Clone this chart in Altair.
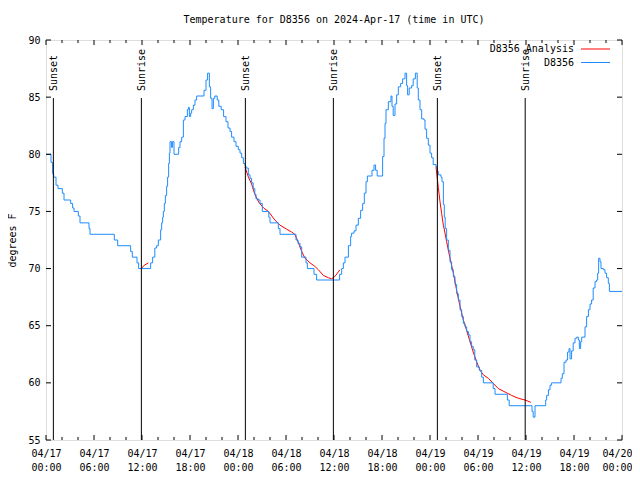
import altair as alt
import pandas as pd

# ---------------- data (hours since 2024-04-17 00:00 UTC) ----------------
blue_hours = [0.0, 0.625, 0.83, 0.96, 1.25, 1.5, 2.04, 2.25, 3.08, 3.33, 3.5, 4.04, 4.25, 5.375, 5.5,
              8.54, 8.96, 10.58, 10.79, 11.375, 11.58, 13.08, 13.33, 13.6, 13.83, 14.04, 14.33, 14.46,
              14.58, 14.67, 14.79, 14.92, 15.08, 15.2, 15.33, 15.42, 15.5, 15.7, 15.8, 16.0, 16.58,
              16.75, 16.96, 17.17, 17.375, 17.67, 17.8, 17.92, 18.08, 18.21, 18.42, 18.625, 18.83,
              19.75, 20.0, 20.2, 20.42, 20.58, 20.75, 20.92, 21.1, 21.4, 21.6, 21.9, 22.2, 22.5,
              22.75, 23.0, 23.2, 23.5, 23.75, 24.04, 24.25, 24.46, 24.67, 24.875, 25.0, 25.29, 25.5,
              25.7, 25.9, 26.1, 26.25, 26.54, 26.75, 27.04, 27.85, 28.0, 29.04, 29.25, 31.25, 31.5,
              31.75, 31.96, 32.5, 32.67, 33.5, 33.83, 36.7, 36.96, 37.17, 37.375, 37.8, 38.08, 38.2,
              38.5, 38.75, 39.04, 39.33, 39.58, 39.79, 40.0, 40.17, 40.75, 41.0, 41.2, 41.4, 42.08,
              42.25, 42.375, 42.5, 42.79, 43.125, 43.25, 43.4, 43.625, 43.83, 44.04, 44.33, 44.58,
              44.875, 45.08, 45.2, 45.4, 45.7, 45.9, 46.17, 46.4, 46.54, 46.75, 46.96, 47.25, 47.375,
              47.58, 47.79, 48.0, 48.2, 48.4, 48.75, 48.9, 49.04, 49.375, 49.5, 49.67, 49.79, 49.9,
              50.08, 50.29, 50.5, 50.7, 50.92, 51.125, 51.33, 51.54, 51.75, 51.96, 52.17, 52.375,
              52.58, 52.8, 53.0, 53.2, 53.4, 53.6, 53.83, 54.17, 54.46, 54.67, 55.9, 56.125, 57.67,
              57.9, 60.75, 60.9, 61.125, 62.46, 62.58, 62.8, 63.0, 63.2, 64.375, 64.54, 64.75, 65.0,
              65.2, 65.375, 65.5, 65.7, 65.9, 66.125, 66.33, 66.54, 66.67, 66.83, 66.96, 67.375,
              67.58, 67.8, 68.0, 68.2, 68.4, 68.625, 68.83, 68.96, 69.08, 69.25, 69.375, 69.67,
              69.875, 70.08, 70.29, 70.42, 72.0]
blue_temps = [80.0, 79.3, 78.3, 78.0, 77.3, 77.0, 76.6, 76.0, 75.7, 75.3, 75.0, 74.6, 74.0, 73.5, 73.0,
              72.5, 72.0, 71.5, 71.0, 70.5, 70.0, 70.5, 71.0, 71.8, 72.0, 72.5, 73.4, 74.0,
              74.5, 75.0, 75.7, 76.4, 77.2, 78.0, 79.2, 80.1, 81.1, 80.6, 81.1, 80.0, 80.6,
              81.1, 81.5, 83.0, 83.3, 83.9, 84.1, 83.3, 83.6, 83.9, 84.3, 84.75, 85.1,
              85.6, 86.5, 87.1, 85.9, 84.9, 84.0, 84.9, 85.1, 84.75, 84.2, 83.9, 83.3, 82.85,
              82.3, 82.0, 81.5, 81.1, 80.7, 80.4, 80.1, 79.7, 79.2, 79.0, 78.8, 78.2, 77.9,
              77.5, 77.0, 76.5, 76.1, 76.0, 75.7, 75.0, 74.5, 74.0, 73.5, 73.0, 72.5, 72.2,
              71.9, 71.0, 70.5, 70.0, 69.5, 69.0, 69.5, 70.0, 70.5, 71.0, 72.0, 72.8, 73.1,
              73.3, 73.8, 74.4, 75.1, 75.7, 76.6, 77.6, 78.1, 78.6, 79.06, 78.6, 78.1, 79.8,
              81.4, 82.7, 83.9, 84.6, 85.1, 84.2, 83.4, 84.4, 85.2, 85.9, 86.2, 86.6,
              87.1, 86.0, 85.2, 85.8, 86.0, 86.6, 87.1, 85.8, 84.75, 83.9, 83.1, 83.0, 82.2,
              81.4, 80.8, 80.1, 79.7, 79.1, 78.9, 78.5, 78.2, 78.0, 77.6, 75.6, 74.5, 73.5,
              72.5, 71.6, 70.6, 69.9, 69.3, 68.6, 67.8, 67.25, 66.4, 65.8, 65.2, 64.9,
              64.5, 64.2, 63.6, 63.2, 62.9, 62.0, 61.4, 61.1, 60.5, 60.0, 59.5, 59.0, 58.5,
              58.0, 57.5, 57.0, 58.0, 58.5, 58.9, 59.4, 59.8, 60.0, 60.4, 60.8, 61.8, 62.0,
              62.7, 63.0, 62.1, 62.8, 63.5, 63.9, 64.0, 63.75, 63.0, 63.6, 64.0, 64.9,
              65.8, 66.4, 66.9, 67.25, 68.3, 68.85, 69.0, 69.6, 70.9, 70.6, 70.0, 69.9,
              69.6, 69.2, 68.7, 68.0, 68.0]

red_hours = [11.9, 12.3, 12.8,
             24.875, 25.3, 25.7, 26.1, 26.6, 27.2, 27.8, 28.6, 29.25, 30.08, 30.7, 31.1, 31.5,
             31.96, 32.375, 33.0, 33.6, 34.04, 34.67, 35.3, 35.7, 36.1, 36.75,
             48.75, 49.04, 49.25, 49.46, 49.67, 49.875, 50.08, 50.5, 50.92, 51.33, 51.75, 52.17,
             52.58, 53.0, 53.4, 53.83, 54.25, 54.67, 55.29, 55.9, 56.54, 57.375, 58.2, 59.04,
             59.875, 60.6]
red_temps = [70.0, 70.3, 70.5,
             78.9, 78.0, 77.4, 76.5, 75.8, 75.3, 75.0, 74.25, 73.8, 73.45, 73.2, 73.0, 72.35,
             71.5, 70.9, 70.5, 70.2, 69.9, 69.4, 69.2, 69.1, 69.3, 69.9,
             78.9, 77.1, 75.85, 74.8, 73.8, 73.1, 72.35, 70.9, 69.6, 68.1, 66.7, 65.5,
             64.6, 63.6, 62.7, 61.85, 61.1, 60.7, 60.4, 59.96, 59.5, 59.2, 58.9, 58.65,
             58.5, 58.3]
red_segment = [1] * 3 + [2] * 23 + [3] * 26

event_hours = [0.92, 11.92, 24.92, 35.92, 48.92, 59.9]
event_labels = ["Sunset", "Sunrise", "Sunset", "Sunrise", "Sunset", "Sunrise"]

x_major = [0, 6, 12, 18, 24, 30, 36, 42, 48, 54, 60, 66, 72]
x_minor = [h for h in range(0, 73, 2) if h % 6 != 0]
x_dates = ["04/17", "04/17", "04/17", "04/17", "04/18", "04/18", "04/18", "04/18",
           "04/19", "04/19", "04/19", "04/19", "04/20"]
x_times = ["00:00", "06:00", "12:00", "18:00", "00:00", "06:00", "12:00", "18:00",
           "00:00", "06:00", "12:00", "18:00", "00:00"]
y_major = [55, 60, 65, 70, 75, 80, 85, 90]

series_names = ["D8356 Analysis", "D8356"]
series_colors = ["#ff0000", "#1e8cff"]

# ---------------- chart ----------------
FONT = "DejaVu Sans Mono"
W, H = 576, 400

blue_df = pd.DataFrame({"h": blue_hours, "v": blue_temps})
red_df = pd.DataFrame({"h": red_hours, "v": red_temps, "seg": red_segment})
ev_df = pd.DataFrame({"h": event_hours, "label": event_labels})
xmaj_df = pd.DataFrame({"h": x_major})
xmin_df = pd.DataFrame({"h": x_minor})
ymaj_df = pd.DataFrame({"v": y_major})

xscale = alt.Scale(domain=[0, 72], nice=False, zero=False)
yscale = alt.Scale(domain=[55, 90], nice=False, zero=False)

label_pairs = ",".join("['%s','%s']" % (d, t) for d, t in zip(x_dates, x_times))
label_expr = "[%s][round(datum.value / 6)]" % label_pairs
last_test = "datum.value >= %d" % x_major[-1]

x_axis = alt.Axis(values=x_major, labelExpr=label_expr, ticks=False, tickSize=0, domain=False,
                  grid=False, labelFont=FONT, labelFontSize=10, labelPadding=8,
                  labelBaseline="top", labelLineHeight=14, labelColor="black",
                  labelAlign={"condition": {"test": last_test, "value": "right"},
                              "value": "center"},
                  labelOffset={"condition": {"test": last_test, "value": 10}, "value": 0},
                  labelFlush=False, labelOverlap=False, labelBound=False, title=None)
y_axis = alt.Axis(values=y_major, ticks=False, tickSize=0, domain=False, grid=False,
                  labelFont=FONT, labelFontSize=10, labelPadding=6, labelColor="black",
                  labelOverlap=False, labelFlush=False, title="degrees F", titleFont=FONT,
                  titleFontSize=10, titleFontWeight="normal", titleColor="black",
                  titlePadding=10)


def X():
    return alt.X("h:Q", scale=xscale, axis=x_axis)


def Y():
    return alt.Y("v:Q", scale=yscale, axis=y_axis)


red_line = alt.Chart(red_df).mark_line(color=series_colors[0], strokeWidth=1).encode(
    x=X(), y=Y(), detail="seg:N",
)
blue_line = alt.Chart(blue_df).mark_line(color=series_colors[1], strokeWidth=1,
                                         interpolate="step-after").encode(x=X(), y=Y())
ev_rules = alt.Chart(ev_df).mark_rule(color="black", strokeWidth=1).encode(
    x=X(), y=alt.value(58), y2=alt.value(H))
ev_text = alt.Chart(ev_df).mark_text(angle=270, align="left", baseline="middle", font=FONT,
                                     fontSize=10, color="black", dy=1).encode(
    x=X(), y=alt.value(51), text="label:N")


def xticks(df, size):
    bottom = alt.Chart(df).mark_rule(color="black").encode(
        x=X(), y=alt.value(H), y2=alt.value(H - size))
    top = alt.Chart(df).mark_rule(color="black").encode(
        x=X(), y=alt.value(0), y2=alt.value(size))
    return [bottom, top]


yt_left = alt.Chart(ymaj_df).mark_rule(color="black").encode(
    y=Y(), x=alt.value(0), x2=alt.value(5))
yt_right = alt.Chart(ymaj_df).mark_rule(color="black").encode(
    y=Y(), x=alt.value(W), x2=alt.value(W - 5))

legend_layers = []
for i, (name, col) in enumerate(zip(series_names, series_colors)):
    ldf = pd.DataFrame({"label": [name]})
    yrow = 9 + 13.5 * i
    legend_layers.append(alt.Chart(ldf).mark_text(align="right", baseline="middle", font=FONT,
                                                  fontSize=10, color="black").encode(
        text="label:N", x=alt.value(528), y=alt.value(yrow)))
    legend_layers.append(alt.Chart(ldf).mark_rule(color=col, strokeWidth=1).encode(
        x=alt.value(535), x2=alt.value(564), y=alt.value(yrow)))

chart = alt.layer(
    red_line, blue_line, ev_rules, ev_text,
    *xticks(xmaj_df, 5), *xticks(xmin_df, 3), yt_left, yt_right,
    *legend_layers,
).properties(
    width=W, height=H,
    title=alt.TitleParams("Temperature for D8356 on 2024-Apr-17 (time in UTC)", font=FONT,
                          fontSize=10, fontWeight="normal", color="black", anchor="middle",
                          offset=10),
    autosize=alt.AutoSizeParams(type="none"),
    padding={"left": 38, "top": 32, "right": 10, "bottom": 32},
).configure_view(stroke="black", strokeWidth=1).configure(background="white")

chart.save("out.html", embed_options={"renderer": "svg", "actions": False})
